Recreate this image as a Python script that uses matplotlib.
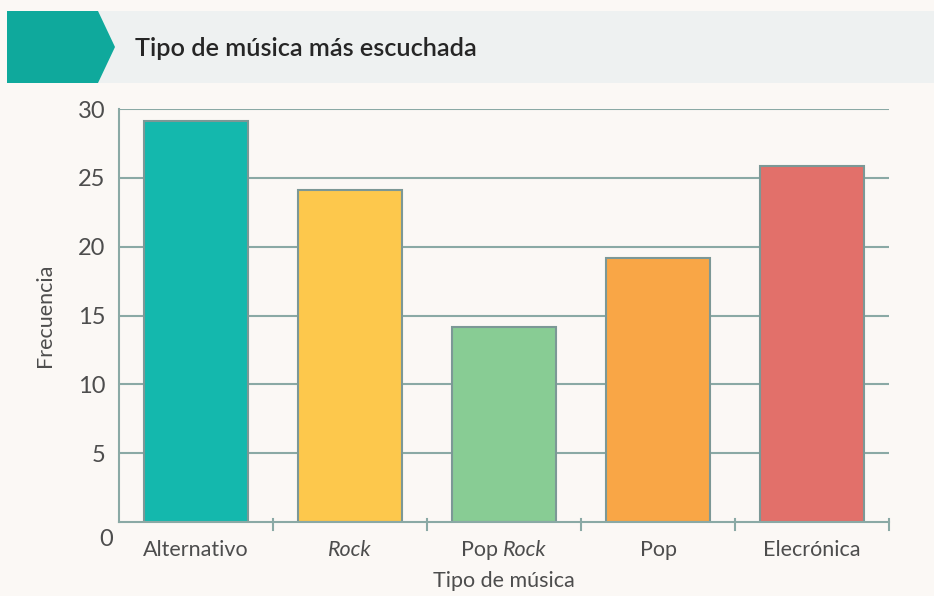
import matplotlib
matplotlib.use("Agg")
import matplotlib.pyplot as plt
from matplotlib.patches import Rectangle, Polygon
from matplotlib.transforms import offset_copy

categories = ["Alternativo", "Rock", "Pop Rock", "Pop", "Elecrónica"]
values = [29.1, 24.15, 14.15, 19.2, 25.85]
colors = ["#14b8ad", "#fdc84c", "#88cc94", "#f9a646", "#e2706a"]
yticks = [5, 10, 15, 20, 25, 30]
title = "Tipo de música más escuchada"
xlabel = "Tipo de música"
ylabel = "Frecuencia"

plt.rcParams['font.family'] = ['Lato', 'DejaVu Sans']
fig = plt.figure(figsize=(9.34, 5.96), dpi=100)
fig.patch.set_facecolor("#fbf8f5")

W, H = 934, 596
def fx(px): return px / W
def fy(py): return 1 - py / H

txt_c = "#4d4d4d"
wt = "normal"

# header band
fig.patches.append(Rectangle((fx(98), fy(83)), fx(934) - fx(98), fy(11) - fy(83),
                             transform=fig.transFigure, facecolor="#eef1f1", edgecolor="none", zorder=0))
fig.patches.append(Polygon([(fx(7), fy(11)), (fx(98), fy(11)), (fx(115), fy(47)),
                            (fx(98), fy(83)), (fx(7), fy(83))], closed=True,
                           transform=fig.transFigure, facecolor="#0fa99c", edgecolor="none", zorder=1))
fig.text(fx(135), fy(48), title, fontsize=18.2, fontweight="semibold", color="#262626",
         va="center", ha="left")

grid_c = "#8aa9a5"
ax = fig.add_axes([fx(119), fy(522), fx(889) - fx(119), fy(109) - fy(522)])
ax.set_facecolor("#fbf8f5")
x = list(range(len(categories)))
ax.bar(x, values, width=0.68, color=colors, edgecolor="#7c9896", linewidth=1.5, zorder=3)
ax.set_xlim(-0.5, 4.5)
ax.set_ylim(0, 30)
for t in yticks:
    ax.axhline(t, color=grid_c, linewidth=1.5, zorder=1)
ax.set_yticks(yticks)
ax.set_yticklabels([str(t) for t in yticks], fontsize=17, color=txt_c, fontweight=wt)
ax.tick_params(axis="y", length=0, pad=10)
ax.annotate("0", xy=(-0.5, 0), xytext=(-6, -18), textcoords="offset pixels",
            fontsize=17, color=txt_c, ha="right", va="center", fontweight=wt)

ax.set_xticks(x)
ax.set_xticklabels([""] * len(x))
ax.tick_params(axis="x", length=0, pad=10)
ly = -2.05
lfs = 15.5
for i, c in enumerate(categories):
    if c == "Rock":
        ax.text(i, ly, "Rock", fontsize=lfs, style="italic", color=txt_c, ha="center", va="center",
                fontweight=wt)
    elif c == "Pop Rock":
        t1 = ax.text(i, ly, "Pop ", fontsize=lfs, color=txt_c, ha="right", va="center", fontweight=wt)
        t2 = ax.text(i, ly, "Rock", fontsize=lfs, style="italic", color=txt_c, ha="left", va="center",
                     fontweight=wt)
        fig.canvas.draw()
        r = fig.canvas.get_renderer()
        w1 = t1.get_window_extent(r).width
        w2 = t2.get_window_extent(r).width
        shift = (w1 - w2) / 2
        t1.set_transform(offset_copy(ax.transData, fig=fig, x=shift, y=0, units="dots"))
        t2.set_transform(offset_copy(ax.transData, fig=fig, x=shift, y=0, units="dots"))
    else:
        ax.text(i, ly, c, fontsize=lfs, color=txt_c, ha="center", va="center", fontweight=wt)

for b in [0.5, 1.5, 2.5, 3.5, 4.5]:
    ax.plot([b, b], [-0.55, 0.25], color=grid_c, linewidth=1.5, clip_on=False, zorder=4)

for s in ["top", "right"]:
    ax.spines[s].set_visible(False)
ax.spines["left"].set_color(grid_c)
ax.spines["bottom"].set_color(grid_c)
ax.spines["left"].set_linewidth(1.5)
ax.spines["bottom"].set_linewidth(1.5)
ax.spines["bottom"].set_zorder(5)

fig.text(fx(504), fy(581), xlabel, fontsize=15.5, color=txt_c, ha="center", va="center",
         fontweight=wt)
fig.text(fx(45), fy(315), ylabel, fontsize=15.5, color=txt_c, ha="center", va="center", rotation=90,
         fontweight=wt)

fig.savefig("out.png", dpi=100, facecolor=fig.get_facecolor())
